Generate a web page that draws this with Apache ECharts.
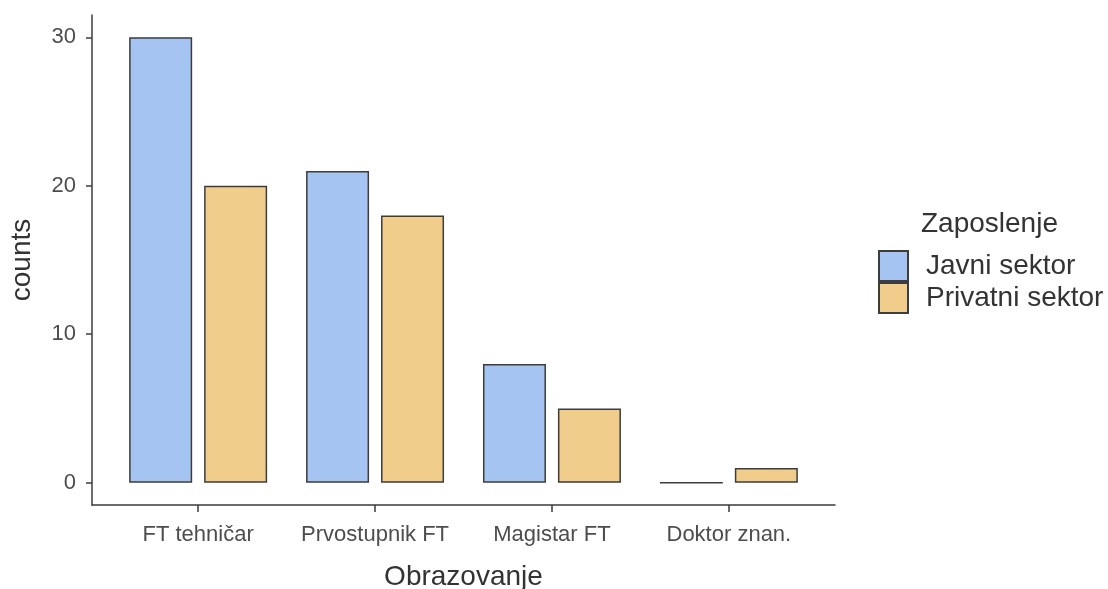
<!DOCTYPE html>
<html><head><meta charset="utf-8">
<script src="https://cdn.jsdelivr.net/npm/echarts@6/dist/echarts.min.js"></script>
<style>html,body{margin:0;padding:0;background:#fff}#c{width:1108px;height:589px}</style>
</head><body><div id="c"></div>
<script>
const categories = ['FT tehničar', 'Prvostupnik FT', 'Magistar FT', 'Doktor znan.'];
const javniSektor = [30, 21, 8, 0];
const privatniSektor = [20, 18, 5, 1];
const yTicks = [0, 10, 20, 30];
const xTickPositions = [1, 2, 3, 4];

const FONT = '"Liberation Sans", Arial, sans-serif';
const chart = echarts.init(document.getElementById('c'));
const borderStyle = {borderColor: '#3d3d3d', borderWidth: 1.5};
chart.setOption({
  animation: false,
  textStyle: {fontFamily: FONT},
  title: {
    text: 'Zaposlenje', left: 921, top: 210, padding: 0,
    textStyle: {fontFamily: FONT, fontSize: 28, fontWeight: 'normal', color: '#333'}
  },
  legend: {
    orient: 'vertical', left: 878, top: 250, padding: 0,
    itemWidth: 29, itemHeight: 30, itemGap: 0,
    icon: 'rect',
    textStyle: {fontFamily: FONT, fontSize: 28, color: '#333', padding: [0, 0, 0, 13]},
    data: ['Javni sektor', 'Privatni sektor']
  },
  grid: {left: 92, right: 273, top: 15, bottom: 84, containLabel: false, outerBoundsMode: 'none'},
  xAxis: {
    type: 'value', min: 0.4, max: 4.6,
    name: 'Obrazovanje', nameLocation: 'middle', nameGap: 58,
    nameTextStyle: {fontFamily: FONT, fontSize: 28, color: '#333'},
    axisLine: {show: true, onZero: false, lineStyle: {color: '#3d3d3d', width: 1.5}},
    axisTick: {show: true, customValues: xTickPositions, length: 7, lineStyle: {color: '#3d3d3d', width: 1.5}},
    axisLabel: {customValues: xTickPositions, margin: 19, fontSize: 22, color: '#4d4d4d', fontFamily: FONT,
      formatter: v => categories[Math.round(v) - 1] || ''},
    splitLine: {show: false}
  },
  yAxis: {
    type: 'value', min: -1.5, max: 31.5,
    name: 'counts', nameLocation: 'middle', nameGap: 56,
    nameTextStyle: {fontFamily: FONT, fontSize: 28, color: '#333'},
    axisLine: {show: true, onZero: false, lineStyle: {color: '#3d3d3d', width: 1.5}},
    axisTick: {show: true, customValues: yTicks, length: 6, lineStyle: {color: '#3d3d3d', width: 1.5}},
    axisLabel: {customValues: yTicks, margin: 16, fontSize: 22, color: '#4d4d4d', fontFamily: FONT},
    splitLine: {show: false}
  },
  series: [
    {name: 'Javni sektor', type: 'bar', barWidth: 63, barGap: '19%',
     itemStyle: Object.assign({color: '#a5c4f1'}, borderStyle),
     data: javniSektor.map((v, i) => [i + 1, v])},
    {name: 'Privatni sektor', type: 'bar', barWidth: 63, barGap: '19%',
     itemStyle: Object.assign({color: '#f0cd8a'}, borderStyle),
     data: privatniSektor.map((v, i) => [i + 1, v])}
  ]
});
</script></body></html>
